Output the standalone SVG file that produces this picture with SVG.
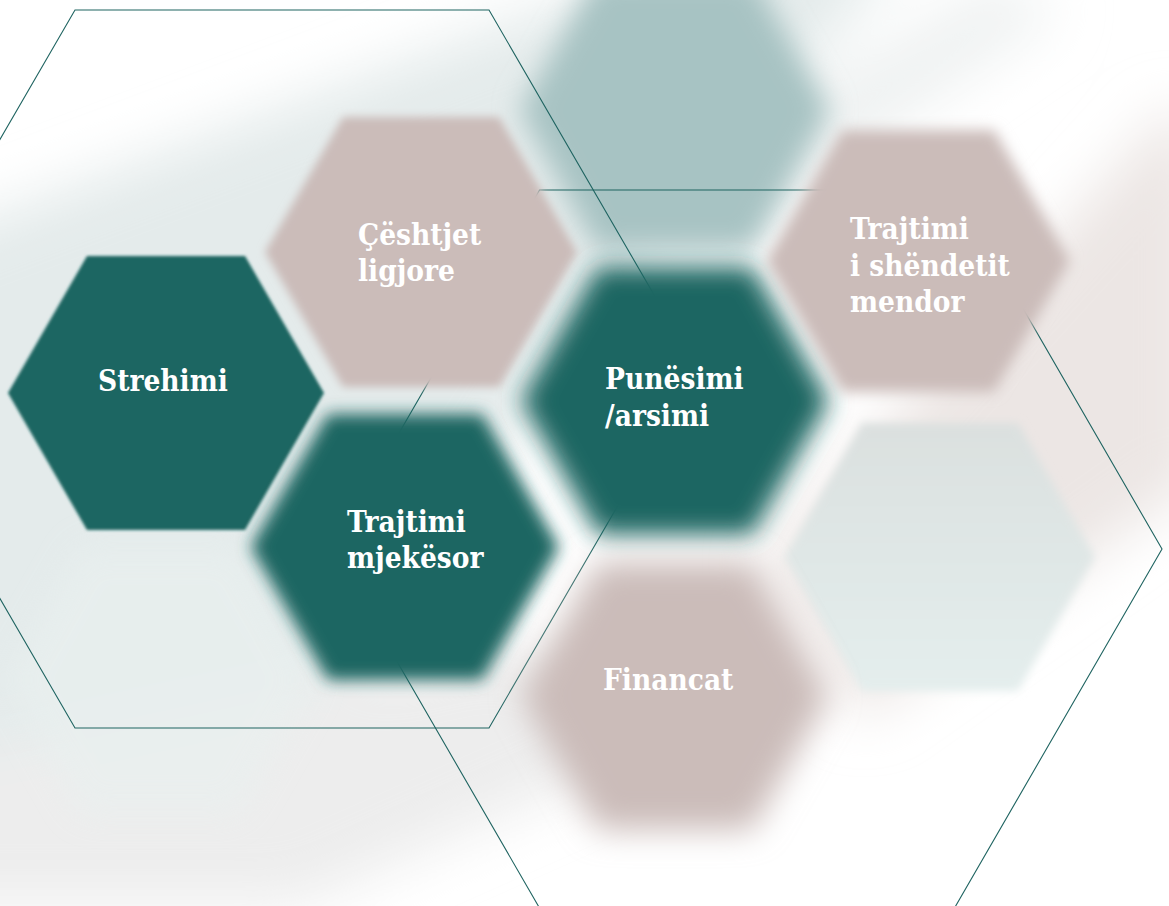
<svg xmlns="http://www.w3.org/2000/svg" width="1169" height="906" viewBox="0 0 1169 906">
<style>
.lbl{font-family:'DejaVu Serif Condensed','DejaVu Serif',serif;font-weight:bold;font-size:29.5px;fill:#ffffff}
.outline{fill:none;stroke:#1f6461;stroke-width:1.1}
.teal{fill:#1d6662}
.pink{fill:#cbbcb9}
</style>
<defs>
<filter id="bg" x="-50%" y="-50%" width="200%" height="200%"><feGaussianBlur stdDeviation="28"/></filter>
<filter id="b1" x="-20%" y="-20%" width="140%" height="140%"><feGaussianBlur stdDeviation="1.6"/></filter>
<filter id="b4" x="-20%" y="-20%" width="140%" height="140%"><feGaussianBlur stdDeviation="4"/></filter>
<filter id="b7" x="-30%" y="-30%" width="160%" height="160%"><feGaussianBlur stdDeviation="7"/></filter>
<filter id="b8" x="-30%" y="-30%" width="160%" height="160%"><feGaussianBlur stdDeviation="8"/></filter>
<filter id="b12" x="-30%" y="-30%" width="160%" height="160%"><feGaussianBlur stdDeviation="12"/></filter>
<filter id="b14" x="-40%" y="-40%" width="180%" height="180%"><feGaussianBlur stdDeviation="14"/></filter>
<filter id="b16" x="-40%" y="-40%" width="180%" height="180%"><feGaussianBlur stdDeviation="16"/></filter>
<linearGradient id="grayG" x1="0" y1="0" x2="0" y2="1"><stop offset="0" stop-color="#dbe0df"/><stop offset="1" stop-color="#e4eeed"/></linearGradient>
</defs>
<rect width="1169" height="906" fill="#ffffff"/>
<g id="background" filter="url(#bg)">
<polygon points="-100,250 780,-80 900,-40 600,300 300,760 -100,800" fill="#e4ebeb"/>
<polygon points="-100,770 500,640 720,720 300,906 -100,906" fill="#ededed"/>
<polygon points="760,560 1169,110 1200,120 1200,480 860,720" fill="#ece6e4"/>
<polygon points="620,200 1000,-20 1060,10 700,260" fill="#eef1f1"/>
</g>
<g id="faint-hexes">
<polygon points="597,-24 753,-24 830,110 753,250 597,250 520,110" fill="#a7c3c3" filter="url(#b14)"/>
<polygon points="862,423 1018,423 1095,557 1018,691 862,691 785,557" fill="url(#grayG)" filter="url(#b4)"/>
<polygon points="82,546 238,546 315,680 238,814 82,814 5,680" fill="#e9f0ef" opacity="0.7" filter="url(#b16)"/>
</g>
<g id="connectors">
<polygon class="outline" points="75,10 489,10 697,369 489,728 75,728 -133,369"/>
<polygon class="outline" points="539.5,190 954.5,190 1162,549 954.5,908 539.5,908 332,549"/>
</g>
<g id="node-strehimi">
<polygon class="teal" points="87,256 245,256 324,393 245,530 87,530 8,393" filter="url(#b1)"/>
<text class="lbl" x="98" y="391">Strehimi</text>
</g>
<g id="node-ceshtjet">
<polygon class="pink" points="343,117 499,117 577,252 499,387 343,387 265,252" filter="url(#b4)"/>
<text class="lbl" x="358" y="245">Çështjet</text>
<text class="lbl" x="358" y="281">ligjore</text>
</g>
<g id="node-mjekesor">
<polygon class="teal" points="328,414 482,414 559,547 482,680 328,680 251,547" filter="url(#b8)"/>
<text class="lbl" x="347" y="532">Trajtimi</text>
<text class="lbl" x="347" y="568">mjekësor</text>
</g>
<g id="node-punesimi">
<polygon class="teal" points="598,267 752,267 829,401 752,535 598,535 521,401" filter="url(#b12)"/>
<text class="lbl" x="605" y="389">Punësimi</text>
<text class="lbl" x="605" y="426">/arsimi</text>
</g>
<g id="node-shendetit">
<polygon class="pink" points="842,130 994,130 1070,261 994,392 842,392 766,261" filter="url(#b7)"/>
<text class="lbl" x="850" y="239">Trajtimi</text>
<text class="lbl" x="850" y="276">i shëndetit</text>
<text class="lbl" x="850" y="312">mendor</text>
</g>
<g id="node-financat">
<polygon class="pink" points="598,562 752,562 829,696 752,830 598,830 521,696" filter="url(#b16)"/>
<text class="lbl" x="603" y="690">Financat</text>
</g>
</svg>
